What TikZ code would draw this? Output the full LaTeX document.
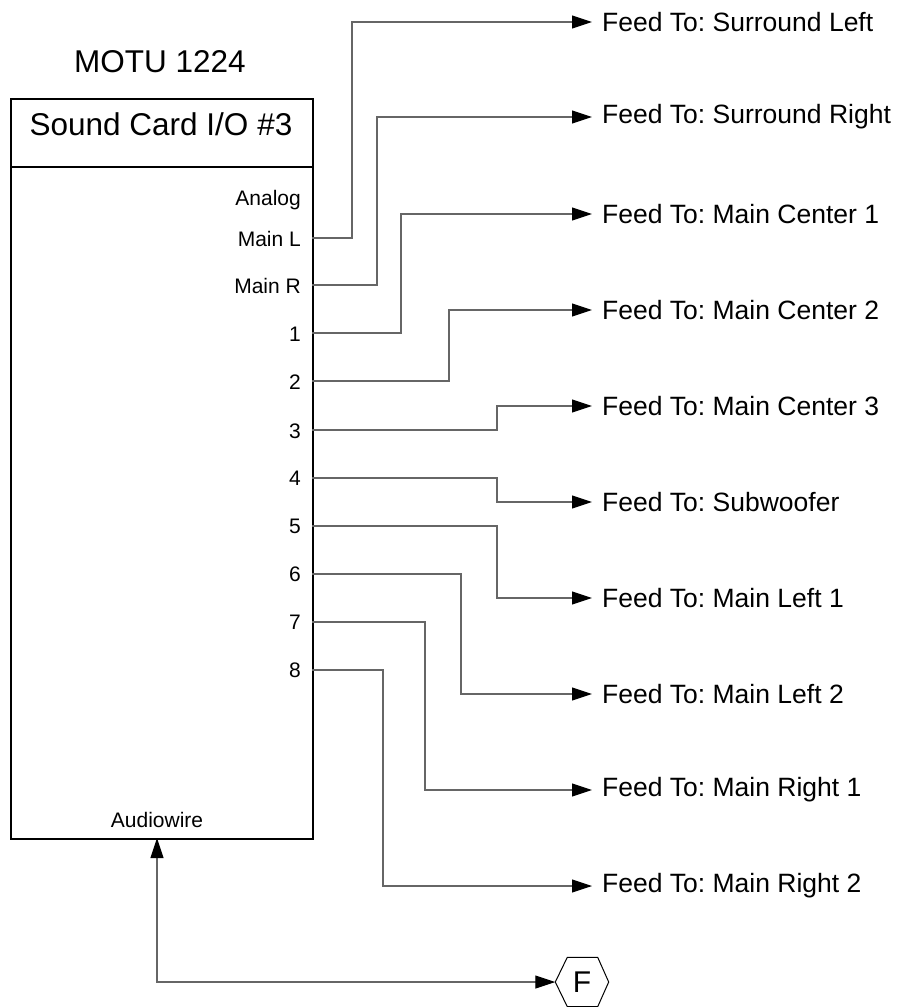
\documentclass[tikz,border=0pt]{standalone}
\usepackage{fontspec}
\setmainfont{Liberation Sans}
\usetikzlibrary{arrows.meta}
\frenchspacing
\begin{document}
\begin{tikzpicture}[x=1pt,y=-1pt,
  boxline/.style={draw=black,line width=1.5pt},
  conn/.style={draw=black!60,line width=1.1pt},
  tip/.style={-{Triangle[length=20pt,width=13pt,color=black]}},
  feed/.style={anchor=west,inner xsep=10pt,inner ysep=0pt,font=\fontsize{26.5}{30}\selectfont},
  port/.style={anchor=base east,inner sep=0pt,font=\fontsize{21}{24}\selectfont},
  titletext/.style={anchor=base,inner sep=0pt,font=\fontsize{31.5}{36}\selectfont}]
\useasboundingbox (0,0) rectangle (903,1007);
% device box
\node[boxline,minimum width=302,minimum height=68,anchor=north west,inner sep=0] (title) at (10,98) {};
\node[boxline,minimum width=302,minimum height=672,anchor=north west,inner sep=0] (body) at (10,166) {};
\node[titletext] (motu) at (160,72) {MOTU 1224};
\node[titletext] (sct) at (161,135) {Sound Card I/O \#3};
% port labels
\node[port] (lan) at (301,205) {Analog};
\node[port] (lml) at (301,246) {Main L};
\node[port] (lmr) at (301,293) {Main R};
\node[port] (l1) at (301,341) {1};
\node[port] (l2) at (301,389) {2};
\node[port] (l3) at (301,438) {3};
\node[port] (l4) at (301,485) {4};
\node[port] (l5) at (301,533) {5};
\node[port] (l6) at (301,581) {6};
\node[port] (l7) at (301,629) {7};
\node[port] (l8) at (301,677) {8};
\node[port,anchor=base] (law) at (157,827) {Audiowire};
% port coordinates
\coordinate (pml) at (312,238);
\coordinate (pmr) at (312,285);
\coordinate (p1) at (312,333);
\coordinate (p2) at (312,381);
\coordinate (p3) at (312,430);
\coordinate (p4) at (312,478);
\coordinate (p5) at (312,526);
\coordinate (p6) at (312,574);
\coordinate (p7) at (312,622);
\coordinate (p8) at (312,670);
\coordinate (paw) at (157,838);
% feed labels
\node[feed] (f1) at (592,22) {Feed To: Surround Left};
\node[feed] (f2) at (592,117) {Feed To: Surround Right};
\node[feed] (f3) at (592,214) {Feed To: Main Center 1};
\node[feed] (f4) at (592,310) {Feed To: Main Center 2};
\node[feed] (f5) at (592,406) {Feed To: Main Center 3};
\node[feed] (f6) at (592,502) {Feed To: Subwoofer};
\node[feed] (f7) at (592,598) {Feed To: Main Left 1};
\node[feed] (f8) at (592,694) {Feed To: Main Left 2};
\node[feed] (f9) at (592,790) {Feed To: Main Right 1};
\node[feed] (f10) at (592,886) {Feed To: Main Right 2};
% connectors
\draw[conn,tip] (pml) -- ++(40,0) |- (f1.west);
\draw[conn,tip] (pmr) -- ++(65,0) |- (f2.west);
\draw[conn,tip] (p1) -- ++(89,0) |- (f3.west);
\draw[conn,tip] (p2) -- ++(137,0) |- (f4.west);
\draw[conn,tip] (p3) -- ++(185,0) |- (f5.west);
\draw[conn,tip] (p4) -- ++(185,0) |- (f6.west);
\draw[conn,tip] (p5) -- ++(185,0) |- (f7.west);
\draw[conn,tip] (p6) -- ++(149,0) |- (f8.west);
\draw[conn,tip] (p7) -- ++(113,0) |- (f9.west);
\draw[conn,tip] (p8) -- ++(71,0) |- (f10.west);
% off-page hexagon
\node[minimum width=53,minimum height=49,inner sep=0,font=\fontsize{30}{34}\selectfont] (hex) at (582,982) {F};
\draw[line width=1pt,black] (hex.west) -- ([xshift=12]hex.north west) -- ([xshift=-11]hex.north east) -- (hex.east) -- ([xshift=-11]hex.south east) -- ([xshift=12]hex.south west) -- cycle;
\draw[conn,{Triangle[length=20pt,width=13pt,color=black]}-{Triangle[length=20pt,width=13pt,color=black]}] (paw) |- (hex.west);
\end{tikzpicture}
\end{document}
